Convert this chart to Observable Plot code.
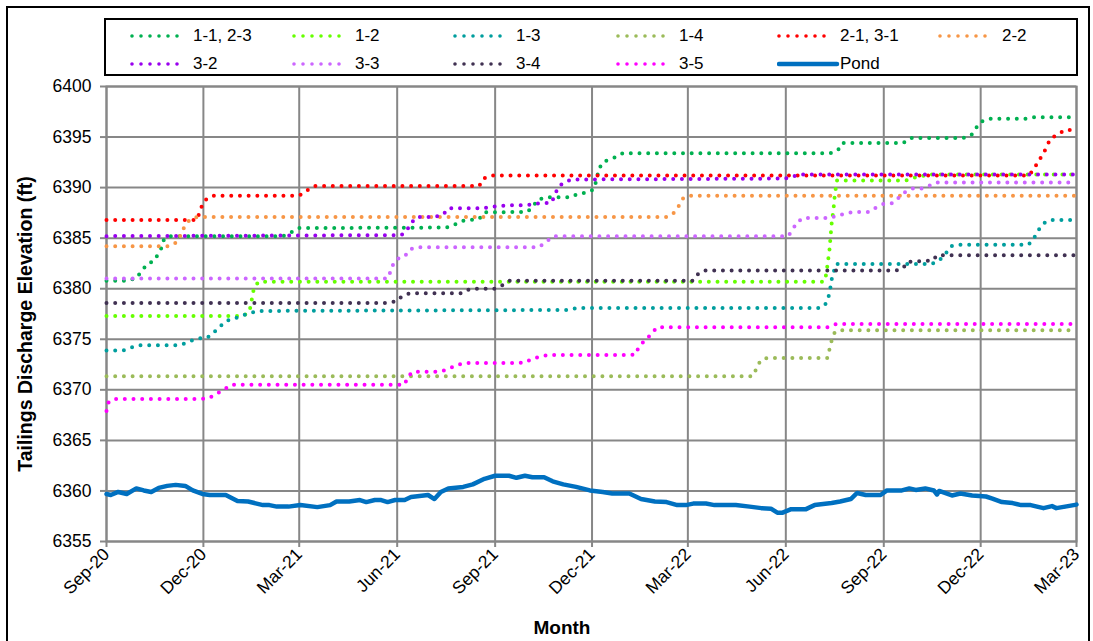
<!DOCTYPE html>
<html>
<head>
<meta charset="utf-8">
<script src="https://cdn.jsdelivr.net/npm/d3@7"></script>
<script src="https://cdn.jsdelivr.net/npm/@observablehq/plot@0.6"></script>
<style>
  html, body { margin: 0; padding: 0; background: #fff; }
  #wrap { position: relative; width: 1093px; height: 641px; overflow: hidden; font-family: "Liberation Sans", Arial, sans-serif; }
  #chart { position: absolute; left: 0; top: 0; }
  #outer { position: absolute; left: 6px; top: 6px; width: 1080px; height: 650px; border: 2px solid #000; pointer-events: none; }
  #legend { position: absolute; left: 104px; top: 18px; width: 970px; height: 54px; border: 2px solid #000; background: #fff; }
  .item { position: absolute; height: 20px; display: block; }
  .item svg { position: absolute; left: 0; top: 0; }
  .item span { position: absolute; top: 0; font-size: 17px; line-height: 20px; color: #000; white-space: nowrap; }
  .ytitle { position: absolute; left: 25px; top: 324px; transform: translate(-50%, -50%) rotate(-90deg); font-weight: bold; font-size: 19.5px; white-space: nowrap; color: #000; }
  .xtitle { position: absolute; left: 562px; top: 628px; transform: translate(-50%, -50%); font-weight: bold; font-size: 19px; white-space: nowrap; color: #000; }
</style>
</head>
<body>
<div id="wrap">
  <div id="chart"></div>
  <div id="outer"></div>
  <div id="legend"></div>
  <div class="ytitle">Tailings Discharge Elevation (ft)</div>
  <div class="xtitle">Month</div>
</div>
<script>
// ---------- data ----------
const seriesNames = ["1-1, 2-3", "1-2", "1-3", "1-4", "2-1, 3-1", "2-2", "3-2", "3-3", "3-4", "3-5", "Pond"];
const seriesColors = ["#00B050", "#66FF00", "#009E9E", "#9BBB59", "#FF0000", "#F79646", "#9900EE", "#CC66FF", "#403152", "#FF00FF", "#0070C0"];

const s11 = [["2020-09-01",6380.8],["2020-09-21",6380.8],["2020-09-29",6381.05],["2020-10-04",6381.75],["2020-10-09",6382.4],["2020-10-16",6382.8],["2020-10-23",6384.1],["2020-10-25",6384.9],["2020-10-31",6385.2],["2021-02-14",6385.2],["2021-02-22",6385.6],["2021-03-01",6386.0],["2021-07-17",6386.05],["2021-07-24",6386.3],["2021-08-01",6386.7],["2021-08-17",6386.9],["2021-08-22",6387.55],["2021-10-01",6387.6],["2021-10-06",6388.05],["2021-10-11",6388.8],["2021-10-19",6389.05],["2021-11-11",6389.05],["2021-11-18",6389.4],["2021-11-26",6389.5],["2021-12-03",6389.85],["2021-12-07",6391.6],["2021-12-10",6392.4],["2021-12-15",6392.7],["2021-12-23",6393.0],["2021-12-30",6393.4],["2022-07-13",6393.4],["2022-07-20",6393.7],["2022-07-24",6394.4],["2022-09-19",6394.4],["2022-09-26",6394.9],["2022-11-14",6394.9],["2022-11-22",6395.15],["2022-11-26",6395.8],["2022-12-01",6396.5],["2022-12-08",6396.8],["2023-01-11",6396.8],["2023-01-18",6396.95],["2023-03-01",6396.95]];
const s12 = [["2020-09-01",6377.3],["2021-01-07",6377.3],["2021-01-13",6377.7],["2021-01-15",6378.55],["2021-01-16",6379.4],["2021-01-18",6380.2],["2021-01-22",6380.7],["2022-07-07",6380.7],["2022-07-09",6381.45],["2022-07-12",6383.85],["2022-07-14",6386.4],["2022-07-16",6388.1],["2022-07-17",6389.3],["2022-07-19",6390.7],["2022-09-22",6390.7],["2022-09-30",6391.0],["2022-10-14",6391.3],["2023-03-01",6391.3]];
const s13 = [["2020-09-01",6373.9],["2020-09-17",6373.9],["2020-09-25",6374.2],["2020-10-02",6374.4],["2020-11-04",6374.4],["2020-11-11",6374.5],["2020-11-19",6374.85],["2020-11-27",6375.1],["2020-12-04",6375.1],["2020-12-10",6375.6],["2020-12-16",6376.2],["2020-12-22",6376.8],["2020-12-29",6377.0],["2021-01-05",6377.3],["2021-01-12",6377.55],["2021-01-21",6377.8],["2021-11-09",6377.9],["2021-11-17",6378.1],["2022-07-04",6378.1],["2022-07-09",6378.55],["2022-07-12",6379.5],["2022-07-14",6380.9],["2022-07-18",6382.45],["2022-10-16",6382.45],["2022-10-23",6382.8],["2022-10-29",6383.45],["2022-11-03",6384.2],["2022-11-10",6384.35],["2023-01-15",6384.35],["2023-01-20",6385.0],["2023-01-24",6385.75],["2023-01-28",6386.4],["2023-02-04",6386.8],["2023-03-01",6386.8]];
const s14 = [["2020-09-01",6371.35],["2022-05-01",6371.35],["2022-05-04",6372.0],["2022-05-08",6372.85],["2022-05-14",6373.15],["2022-07-10",6373.15],["2022-07-14",6374.85],["2022-07-17",6375.7],["2022-07-24",6375.9],["2023-03-01",6375.9]];
const s21 = [["2020-09-01",6386.8],["2020-11-25",6386.8],["2020-11-29",6388.05],["2020-12-04",6388.9],["2020-12-11",6389.2],["2021-03-01",6389.2],["2021-03-08",6389.7],["2021-03-15",6390.15],["2021-08-17",6390.15],["2021-08-21",6390.9],["2021-08-29",6391.2],["2023-01-15",6391.2],["2023-01-20",6391.8],["2023-01-24",6392.6],["2023-01-29",6393.35],["2023-02-01",6394.1],["2023-02-05",6394.9],["2023-02-11",6395.2],["2023-02-18",6395.7],["2023-03-01",6395.7]];
const s22 = [["2020-09-01",6384.2],["2020-10-30",6384.2],["2020-11-06",6384.6],["2020-11-10",6385.35],["2020-11-13",6386.1],["2020-11-18",6386.8],["2020-11-25",6387.1],["2022-02-09",6387.1],["2022-02-15",6387.4],["2022-02-20",6388.1],["2022-02-24",6388.9],["2022-03-02",6389.2],["2023-03-01",6389.2]];
const s32 = [["2020-09-01",6385.2],["2021-06-05",6385.3],["2021-06-10",6385.75],["2021-06-14",6386.5],["2021-06-20",6387.1],["2021-07-06",6387.1],["2021-07-14",6387.3],["2021-07-19",6387.95],["2021-08-21",6387.95],["2021-08-29",6388.1],["2021-09-14",6388.25],["2021-09-30",6388.25],["2021-10-08",6388.4],["2021-10-15",6388.45],["2021-10-24",6388.5],["2021-10-30",6390.0],["2021-11-04",6390.5],["2021-11-12",6390.8],["2022-06-01",6390.9],["2022-06-14",6391.3],["2023-03-01",6391.3]];
const s33 = [["2020-09-01",6381.0],["2021-05-23",6381.0],["2021-05-25",6381.5],["2021-05-28",6382.35],["2021-06-01",6382.95],["2021-06-08",6383.2],["2021-06-13",6383.9],["2021-06-20",6384.1],["2021-10-12",6384.1],["2021-10-19",6384.65],["2021-10-26",6385.2],["2022-06-03",6385.2],["2022-06-07",6385.75],["2022-06-11",6386.5],["2022-06-17",6387.0],["2022-07-14",6387.0],["2022-07-17",6387.2],["2022-07-26",6387.4],["2022-08-03",6387.6],["2022-08-18",6387.6],["2022-08-25",6388.05],["2022-09-02",6388.45],["2022-09-09",6388.45],["2022-09-15",6389.0],["2022-09-21",6389.55],["2022-09-28",6389.9],["2022-10-06",6389.9],["2022-10-13",6390.15],["2022-10-20",6390.5],["2023-03-01",6390.5]];
const s34 = [["2020-09-01",6378.6],["2021-05-23",6378.6],["2021-05-31",6378.75],["2021-06-06",6379.3],["2021-06-13",6379.55],["2021-08-01",6379.55],["2021-08-08",6379.95],["2021-08-15",6380.0],["2021-09-01",6380.0],["2021-09-09",6380.4],["2021-09-15",6380.8],["2022-03-06",6380.8],["2022-03-11",6381.5],["2022-03-17",6381.8],["2022-09-12",6381.8],["2022-09-19",6382.0],["2022-09-23",6382.65],["2022-10-17",6382.8],["2022-10-21",6383.3],["2023-03-01",6383.3]];
const s35 = [["2020-09-01",6367.9],["2020-09-03",6368.75],["2020-09-08",6369.1],["2020-11-28",6369.1],["2020-12-06",6369.15],["2020-12-13",6369.6],["2020-12-20",6370.0],["2020-12-27",6370.5],["2021-06-08",6370.5],["2021-06-11",6371.3],["2021-06-16",6371.8],["2021-07-11",6371.8],["2021-07-19",6372.05],["2021-07-26",6372.4],["2021-08-03",6372.65],["2021-09-20",6372.65],["2021-09-29",6372.7],["2021-10-06",6373.1],["2021-10-21",6373.45],["2022-01-03",6373.45],["2022-01-11",6373.5],["2022-01-14",6374.3],["2022-01-20",6374.9],["2022-01-25",6375.45],["2022-01-31",6376.2],["2022-07-11",6376.2],["2022-07-18",6376.5],["2023-03-01",6376.5]];
const pond = [["2020-09-01",6359.7],["2020-09-05",6359.6],["2020-09-12",6359.9],["2020-09-20",6359.7],["2020-09-29",6360.25],["2020-10-06",6360.05],["2020-10-13",6359.9],["2020-10-20",6360.3],["2020-10-28",6360.5],["2020-11-05",6360.6],["2020-11-14",6360.5],["2020-11-21",6360.05],["2020-11-30",6359.7],["2020-12-07",6359.6],["2020-12-22",6359.6],["2021-01-02",6359.0],["2021-01-12",6358.95],["2021-01-26",6358.6],["2021-02-01",6358.6],["2021-02-08",6358.45],["2021-02-19",6358.45],["2021-03-02",6358.6],["2021-03-18",6358.4],["2021-03-30",6358.6],["2021-04-05",6358.95],["2021-04-17",6358.95],["2021-04-27",6359.1],["2021-05-03",6358.9],["2021-05-11",6359.1],["2021-05-17",6359.1],["2021-05-23",6358.9],["2021-05-30",6359.1],["2021-06-08",6359.1],["2021-06-14",6359.4],["2021-06-22",6359.5],["2021-06-30",6359.6],["2021-07-06",6359.2],["2021-07-12",6359.9],["2021-07-19",6360.25],["2021-08-02",6360.4],["2021-08-11",6360.65],["2021-08-22",6361.2],["2021-09-01",6361.5],["2021-09-14",6361.5],["2021-09-21",6361.3],["2021-09-29",6361.5],["2021-10-06",6361.35],["2021-10-17",6361.35],["2021-10-25",6360.95],["2021-11-04",6360.65],["2021-11-16",6360.4],["2021-11-29",6360.05],["2021-12-11",6359.9],["2021-12-20",6359.75],["2022-01-05",6359.75],["2022-01-16",6359.2],["2022-01-29",6358.95],["2022-02-09",6358.9],["2022-02-19",6358.6],["2022-02-27",6358.6],["2022-03-06",6358.75],["2022-03-18",6358.75],["2022-03-26",6358.6],["2022-04-15",6358.6],["2022-04-28",6358.45],["2022-05-09",6358.3],["2022-05-18",6358.25],["2022-05-24",6357.85],["2022-05-29",6357.85],["2022-06-06",6358.2],["2022-06-20",6358.2],["2022-06-28",6358.6],["2022-07-06",6358.7],["2022-07-14",6358.8],["2022-07-22",6358.95],["2022-08-01",6359.2],["2022-08-07",6359.8],["2022-08-15",6359.6],["2022-08-29",6359.6],["2022-09-04",6360.05],["2022-09-18",6360.05],["2022-09-25",6360.25],["2022-10-01",6360.1],["2022-10-10",6360.25],["2022-10-18",6360.05],["2022-10-21",6359.65],["2022-10-23",6360.0],["2022-11-04",6359.55],["2022-11-12",6359.75],["2022-11-23",6359.55],["2022-12-06",6359.45],["2022-12-12",6359.25],["2022-12-21",6358.9],["2022-12-31",6358.8],["2023-01-08",6358.6],["2023-01-17",6358.6],["2023-01-29",6358.3],["2023-02-06",6358.5],["2023-02-10",6358.3],["2023-02-21",6358.5],["2023-03-01",6358.65]];

const xTickDates = ["2020-09-01","2020-12-01","2021-03-01","2021-06-01","2021-09-01","2021-12-01","2022-03-01","2022-06-01","2022-09-01","2022-12-01","2023-03-01"];
const yTicks = [6355, 6360, 6365, 6370, 6375, 6380, 6385, 6390, 6395, 6400];

// ---------- build table ----------
const dotted = [s11, s12, s13, s14, s21, s22, s32, s33, s34, s35];
const rows = [];
dotted.forEach((s, i) => s.forEach(([d, v]) => rows.push({name: seriesNames[i], date: new Date(d), value: v})));
const pondRows = pond.map(([d, v]) => ({date: new Date(d), value: v}));
const xTicks = xTickDates.map(d => new Date(d));
const grid = "#878787";

const chart = Plot.plot({
  width: 1093,
  height: 641,
  marginLeft: 106,
  marginRight: 17,
  marginTop: 86,
  marginBottom: 100,
  style: {fontFamily: "'Liberation Sans', Arial, sans-serif", fontSize: "17.5px", color: "#000", background: "transparent", overflow: "visible"},
  x: {type: "utc", domain: [xTicks[0], xTicks[xTicks.length - 1]]},
  y: {domain: [6355, 6400]},
  color: {domain: seriesNames, range: seriesColors},
  marks: [
    Plot.gridX(xTicks, {stroke: grid, strokeOpacity: 1, strokeWidth: 2}),
    Plot.gridY(yTicks, {stroke: grid, strokeOpacity: 1, strokeWidth: 2}),
    Plot.frame({stroke: grid, strokeWidth: 2}),
    Plot.axisY(yTicks, {tickSize: 6, tickPadding: 9, tickFormat: d => String(d), label: null, stroke: grid, strokeWidth: 2, fill: "#000"}),
    Plot.axisX(xTicks, {tickSize: 6, tickPadding: 4, tickRotate: -45, tickFormat: d3.utcFormat("%b-%y"), label: null, stroke: grid, strokeWidth: 2, fill: "#000", fontSize: 17.5}),
    Plot.line(rows, {x: "date", y: "value", z: "name", stroke: "name", strokeWidth: 4, strokeDasharray: "0 8.7", strokeLinecap: "round", strokeLinejoin: "round"}),
    Plot.line(pondRows, {x: "date", y: "value", stroke: seriesColors[10], strokeWidth: 4.5, strokeLinejoin: "round", strokeLinecap: "round"})
  ]
});
document.getElementById("chart").appendChild(chart);

// ---------- legend ----------
const legend = document.getElementById("legend");
const colX = [24, 186, 347, 510, 671, 832];
const textX = [87, 249, 410, 573, 734, 896];
const rowY = [6, 34];
seriesNames.forEach((name, i) => {
  const col = i < 6 ? i : i - 6;
  const row = i < 6 ? 0 : 1;
  const item = document.createElement("div");
  item.className = "item";
  item.style.left = colX[col] + "px";
  item.style.top = rowY[row] + "px";
  const isPond = name === "Pond";
  const line = isPond
    ? `<line x1="2" y1="10" x2="60" y2="10" stroke="${seriesColors[i]}" stroke-width="4.5" stroke-linecap="round"/>`
    : `<line x1="2" y1="10" x2="56" y2="10" stroke="${seriesColors[i]}" stroke-width="3.6" stroke-linecap="round" stroke-dasharray="0 9"/>`;
  item.innerHTML = `<svg width="64" height="20">${line}</svg><span style="left:${textX[col] - colX[col]}px">${name}</span>`;
  legend.appendChild(item);
});
</script>
</body>
</html>
